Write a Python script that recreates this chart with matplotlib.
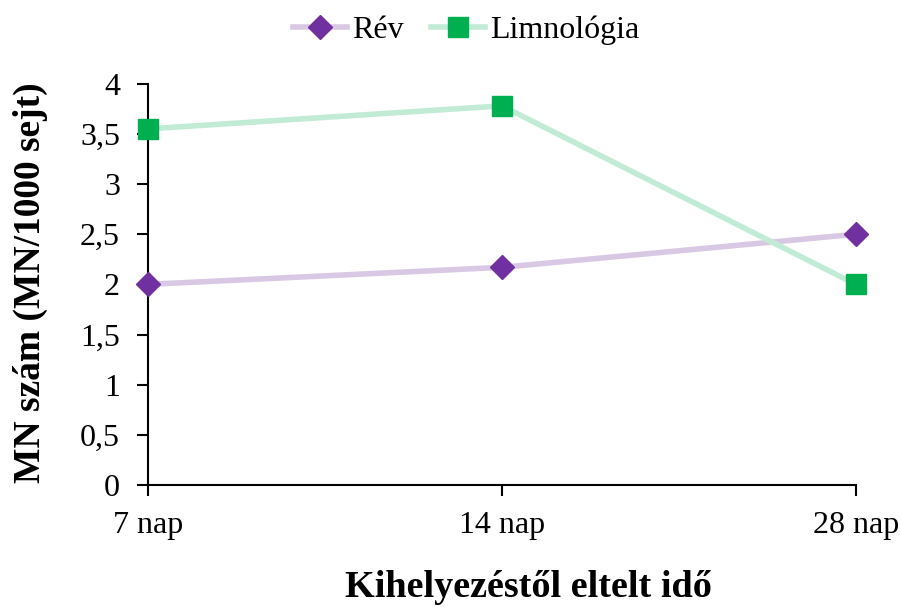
import matplotlib
matplotlib.use("Agg")
import matplotlib.pyplot as plt
from matplotlib.ticker import FuncFormatter

plt.rcParams['font.family'] = ['Liberation Serif', 'DejaVu Serif']

categories = ["7 nap", "14 nap", "28 nap"]
rev = [2.0, 2.17, 2.5]
limno = [3.55, 3.78, 2.0]

fig = plt.figure(figsize=(9.01, 6.07), dpi=100)
ax = fig.add_axes([0.164, 0.201, 0.786, 0.661])

x = range(len(categories))
ax.plot(x, rev, color='#D9C8E4', lw=4, marker='D', markersize=12,
        markerfacecolor='#7030A0', markeredgecolor='#7030A0', label='Rév', clip_on=False, zorder=3)
ax.plot(x, limno, color='#C2EBD5', lw=4, marker='s', markersize=15,
        markerfacecolor='#00B050', markeredgecolor='#00B050', label='Limnológia', clip_on=False, zorder=3)

ax.set_xlim(0, 2)
ax.set_ylim(0, 4)
ax.set_xticks(list(x))
ax.set_xticklabels(categories)
ax.set_yticks([0, 0.5, 1, 1.5, 2, 2.5, 3, 3.5, 4])
ax.yaxis.set_major_formatter(FuncFormatter(lambda v, p: ('%g' % v).replace('.', ',')))
ax.tick_params(axis='both', labelsize=23, length=8, width=1.5, direction='out', colors='black')
ax.tick_params(axis='x', pad=11)
ax.tick_params(axis='y', pad=12)
for s in ['top', 'right']:
    ax.spines[s].set_visible(False)
for s in ['left', 'bottom']:
    ax.spines[s].set_linewidth(1.5)

ax.set_ylabel('MN szám (MN/1000 sejt)', fontsize=27, fontweight='bold')
ax.yaxis.set_label_coords(-0.141, 0.505)
ax.set_xlabel('Kihelyezéstől eltelt idő', fontsize=27.5, fontweight='bold')
ax.xaxis.set_label_coords(0.537, -0.213)

fig.legend(loc='upper center', bbox_to_anchor=(0.517, 1.022), ncol=2, frameon=False,
           fontsize=23, handlelength=1.7, columnspacing=0.85, handletextpad=0.15)

fig.savefig('out.png', dpi=100)
